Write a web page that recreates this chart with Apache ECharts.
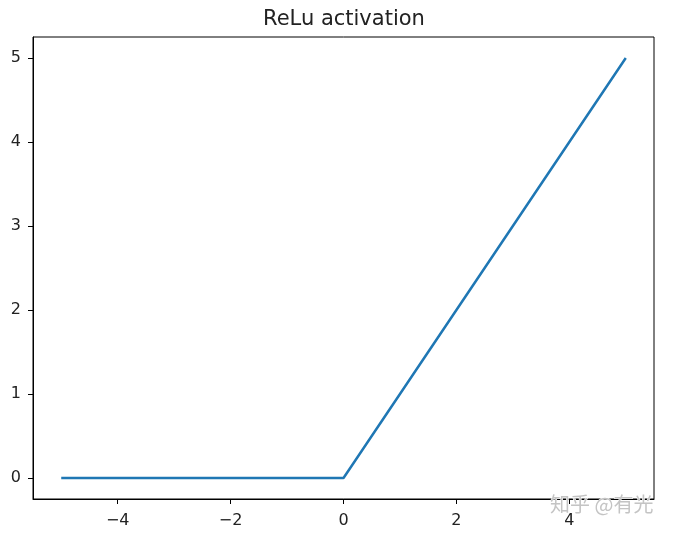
<!DOCTYPE html>
<html>
<head>
<meta charset="utf-8">
<script src="https://cdn.jsdelivr.net/npm/echarts@6/dist/echarts.min.js"></script>
<style>
html,body{margin:0;padding:0;background:#fff;}
#chart{width:673px;height:535px;}
</style>
</head>
<body>
<div id="chart"></div>
<script>
const titleText = 'ReLu activation';
const xValues = [-5, 0, 5];
const yValues = [0, 0, 5];
const xTicks = [-4, -2, 0, 2, 4];
const yTicks = [0, 1, 2, 3, 4, 5];
const watermark = '知乎 @有光';

const chart = echarts.init(document.getElementById('chart'), null, {renderer: 'canvas'});
const fmt = v => (v < 0 ? '\u2212' + Math.abs(v) : String(v));
const font = 'DejaVu Sans';
chart.setOption({
  animation: false,
  backgroundColor: '#fff',
  title: {
    text: titleText, left: 263, top: 9, padding: 0,
    textStyle: {fontFamily: font, fontSize: 21, fontWeight: 'normal', color: '#222'}
  },
  grid: {left: 33, right: 19, top: 37, bottom: 36, show: true, borderColor: '#000', borderWidth: 1},
  xAxis: {
    type: 'value', min: -5.5, max: 5.5,
    axisLine: {show: true, onZero: false, lineStyle: {color: '#000', width: 1}},
    axisTick: {show: true, length: 5, customValues: xTicks, lineStyle: {color: '#000'}},
    axisLabel: {customValues: xTicks, formatter: fmt, margin: 14, fontFamily: font, fontSize: 16, color: '#222'},
    splitLine: {show: false}
  },
  yAxis: {
    type: 'value', min: -0.25, max: 5.25,
    axisLine: {show: true, onZero: false, lineStyle: {color: '#000', width: 1}},
    axisTick: {show: true, length: 5, customValues: yTicks, lineStyle: {color: '#000'}},
    axisLabel: {customValues: yTicks, formatter: fmt, margin: 12, fontFamily: font, fontSize: 16, color: '#222'},
    splitLine: {show: false}
  },
  series: [{
    type: 'line',
    data: xValues.map((x, i) => [x, yValues[i]]),
    showSymbol: false,
    lineStyle: {color: '#1f77b4', width: 2.5},
    itemStyle: {color: '#1f77b4'}
  }],
  graphic: [{
    type: 'text', right: 19, top: 494, z: 100,
    style: {text: watermark, fontFamily: 'Noto Sans CJK SC', fontSize: 20, fill: '#c4c4c4',
            stroke: '#fff', lineWidth: 1}
  }]
});
</script>
</body>
</html>
